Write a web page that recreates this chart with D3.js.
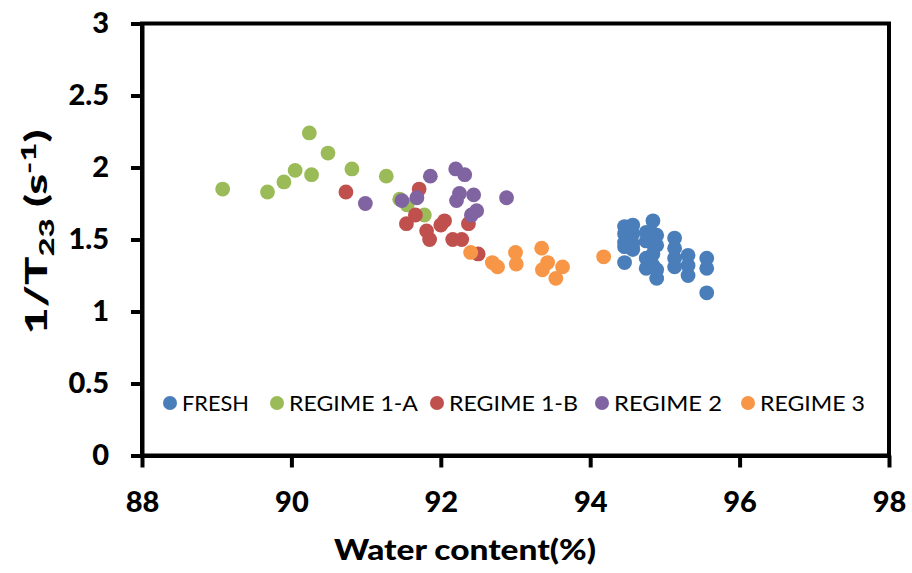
<!DOCTYPE html>
<html><head><meta charset="utf-8">
<script src="https://cdn.jsdelivr.net/npm/d3@7"></script>
<style>body{margin:0;background:#fff}svg{display:block}</style>
</head><body>
<svg id="c" width="912" height="573"></svg>
<script>
const seriesNames = ["FRESH","REGIME 1-A","REGIME 1-B","REGIME 2","REGIME 3"];
const seriesColors = ["#4a7ebb","#9bbb59","#c0504d","#8064a2","#f79646"];
const xTicks = [88,90,92,94,96,98];
const yTicks = [0,0.5,1,1.5,2,2.5,3];

const freshX = [94.46,94.46,94.46,94.46,94.46,94.57,94.57,94.57,94.57,94.75,94.75,94.75,94.75,94.84,94.84,94.84,94.84,94.84,94.89,94.89,94.89,94.89,95.13,95.13,95.13,95.13,95.31,95.31,95.31,95.56,95.56,95.56];
const freshY = [1.59,1.54,1.48,1.45,1.34,1.60,1.54,1.47,1.43,1.55,1.49,1.37,1.30,1.63,1.54,1.47,1.40,1.32,1.53,1.46,1.29,1.23,1.51,1.44,1.37,1.31,1.39,1.32,1.25,1.37,1.30,1.13];
const r1aX = [89.08,89.68,89.90,90.05,90.24,90.27,90.49,90.81,91.27,91.45,91.55,91.78];
const r1aY = [1.85,1.83,1.90,1.98,2.24,1.95,2.10,1.99,1.94,1.78,1.74,1.67];
const r1bX = [90.73,91.71,91.66,91.54,91.81,91.85,92.00,92.05,92.16,92.28,92.37,92.50];
const r1bY = [1.83,1.85,1.67,1.61,1.56,1.50,1.60,1.63,1.50,1.50,1.61,1.40];
const r2X = [90.99,91.86,92.20,92.32,92.25,92.44,92.21,92.88,92.48,92.41,91.48,91.68];
const r2Y = [1.75,1.94,1.99,1.95,1.82,1.81,1.77,1.79,1.70,1.67,1.77,1.79];
const r3X = [92.40,92.69,92.76,93.00,93.01,93.35,93.43,93.36,93.63,93.54,94.18];
const r3Y = [1.41,1.34,1.31,1.41,1.33,1.44,1.34,1.29,1.31,1.23,1.38];
const seriesX = [freshX,r1aX,r1bX,r2X,r3X];
const seriesY = [freshY,r1aY,r1bY,r2Y,r3Y];

const svg = d3.select("#c");
const L=142,R=889,T=23.5,B=455.5;
const x = d3.scaleLinear().domain([88,98]).range([L,R]);
const y = d3.scaleLinear().domain([0,3]).range([B,T]);
const font = "Lato, 'Open Sans', sans-serif";

// frame
svg.append("rect").attr("x",L).attr("y",T).attr("width",R-L).attr("height",B-T)
  .attr("fill","none").attr("stroke","#000").attr("stroke-width",4);

// points
seriesNames.forEach((n,i)=>{
  svg.append("g").selectAll("circle").data(seriesX[i].map((v,j)=>[v,seriesY[i][j]]))
    .join("circle").attr("cx",d=>x(d[0])).attr("cy",d=>y(d[1])).attr("r",7.4)
    .attr("fill",seriesColors[i]);
});

const xa = svg.append("g").attr("transform",`translate(0,${B})`)
  .call(d3.axisBottom(x).tickValues(xTicks).tickSize(12).tickPadding(24).tickSizeOuter(0));
const ya = svg.append("g").attr("transform",`translate(${L},0)`)
  .call(d3.axisLeft(y).tickValues(yTicks).tickSize(11).tickPadding(22).tickSizeOuter(0).tickFormat(d3.format("")));
[xa,ya].forEach(a=>{
  a.select(".domain").attr("stroke-width",4);
  a.selectAll(".tick line").attr("stroke-width",4);
  a.selectAll("text").attr("font-family",font).attr("font-weight",900).attr("font-size",29).attr("fill","#000");
});

// axis titles
svg.append("text").attr("x",465).attr("y",560).attr("text-anchor","middle")
  .attr("font-family",font).attr("font-weight",900).attr("font-size",29)
  .attr("textLength",262).attr("lengthAdjust","spacingAndGlyphs").text("Water content(%)");
const yt = svg.append("text").attr("transform","translate(47,232) rotate(-90)").attr("text-anchor","middle")
  .attr("font-family",font).attr("font-weight",900).attr("font-size",30)
  .attr("textLength",205).attr("lengthAdjust","spacingAndGlyphs");
yt.append("tspan").text("1/T");
yt.append("tspan").attr("font-size",21).attr("dy",7).text("23");
yt.append("tspan").attr("dy",-7).text(" (s");
yt.append("tspan").attr("font-size",21).attr("dy",-11).text("-1");
yt.append("tspan").attr("dy",11).text(")");

// legend
const legX = [170,277,437,602,748];
const legW = [67,129,129,108,105];
seriesNames.forEach((n,i)=>{
  svg.append("circle").attr("cx",legX[i]).attr("cy",403).attr("r",7).attr("fill",seriesColors[i]);
  svg.append("text").attr("x",legX[i]+12).attr("y",410.5).attr("font-family",font)
    .attr("font-size",21).attr("fill","#000")
    .attr("textLength",legW[i]).attr("lengthAdjust","spacingAndGlyphs").text(n);
});
</script>
</body></html>
